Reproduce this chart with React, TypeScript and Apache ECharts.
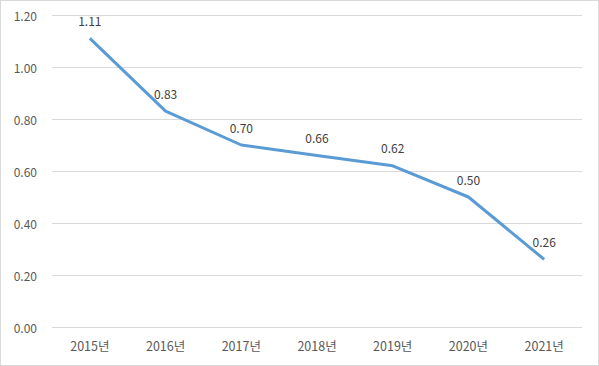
import React, { useEffect, useRef } from "react";
import * as echarts from "echarts";

const categories = ["2015년", "2016년", "2017년", "2018년", "2019년", "2020년", "2021년"];
const values = [1.11, 0.83, 0.7, 0.66, 0.62, 0.5, 0.26];

export default function App() {
  const ref = useRef<HTMLDivElement>(null);
  useEffect(() => {
    const chart = echarts.init(ref.current!, null, { renderer: "svg" });
    const font = "'Noto Sans CJK KR', 'Noto Sans', sans-serif";
    chart.setOption({
      animation: false,
      backgroundColor: "#ffffff",
      grid: { left: 51, right: 16, top: 14, bottom: 38 },
      xAxis: {
        type: "category",
        data: categories,
        boundaryGap: true,
        axisLine: { show: false },
        axisTick: { show: false },
        axisLabel: { color: "#595959", fontSize: 12.5, fontFamily: font, margin: 12 },
      },
      yAxis: {
        type: "value",
        min: 0,
        max: 1.2,
        interval: 0.2,
        axisLine: { show: false },
        axisTick: { show: false },
        splitLine: { lineStyle: { color: "#d9d9d9", width: 1 } },
        axisLabel: {
          color: "#595959",
          fontSize: 12,
          fontFamily: font,
          margin: 15,
          formatter: (v: number) => v.toFixed(2),
        },
      },
      series: [
        {
          type: "line",
          data: values,
          symbol: "circle",
          symbolSize: 0,
          showSymbol: true,
          itemStyle: { color: "#5B9BD5" },
          lineStyle: { color: "#5B9BD5", width: 3 },
          label: {
            show: true,
            position: "top",
            distance: 12,
            color: "#404040",
            fontSize: 12,
            fontFamily: font,
            formatter: (p: any) => p.value.toFixed(2),
          },
        },
      ],
    });
    return () => chart.dispose();
  }, []);
  return (
    <div
      style={{
        position: "absolute",
        left: 0,
        top: 0,
        width: 599,
        height: 366,
        boxSizing: "border-box",
        border: "1px solid #d9d9d9",
      }}
    >
      <div ref={ref} style={{ width: 597, height: 364 }} />
    </div>
  );
}
